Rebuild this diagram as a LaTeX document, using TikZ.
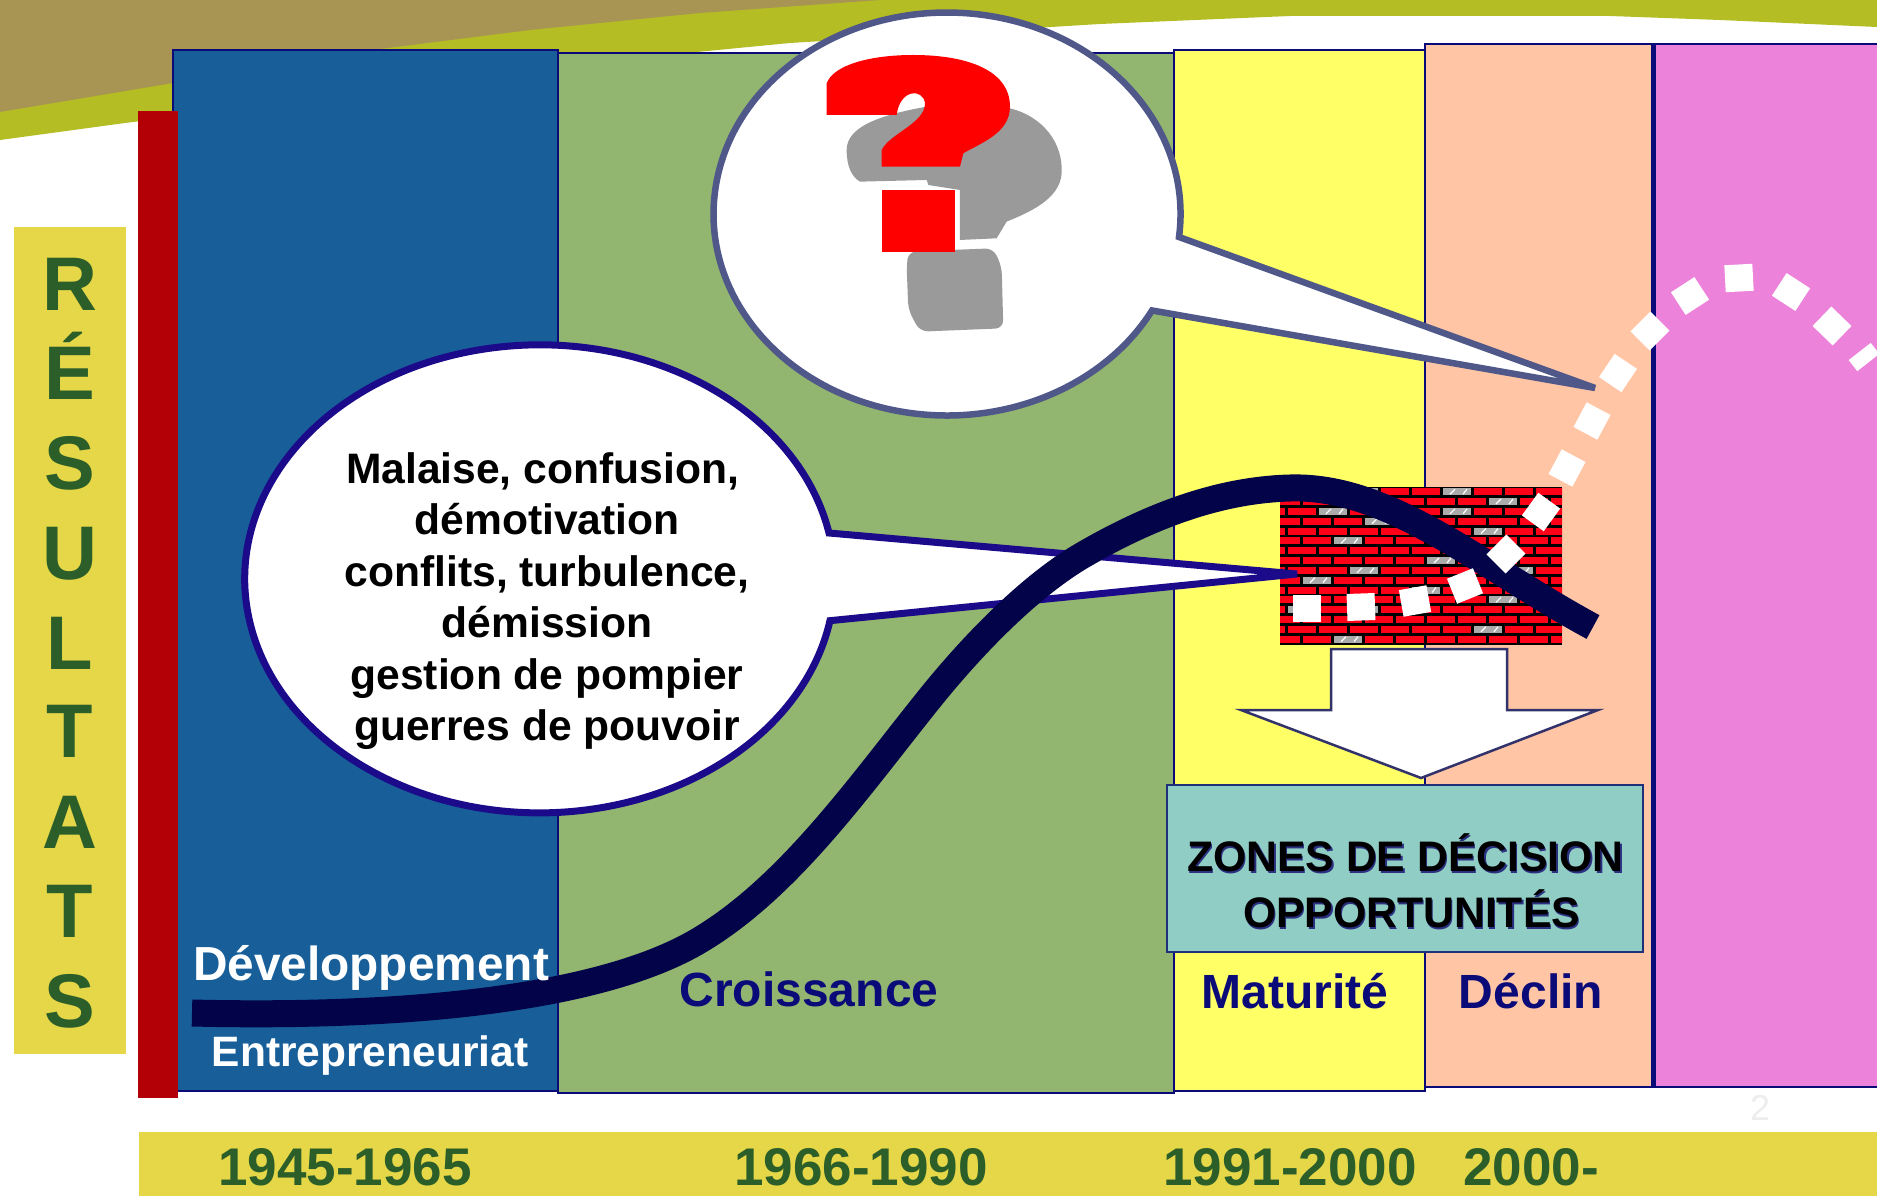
\documentclass[tikz,border=0pt]{standalone}
\usepackage{fontspec}
\setmainfont{Liberation Sans}
\newcommand\txtsz[1]{\fontsize{#1}{#1}\selectfont\bfseries}
\definecolor{cbrown}{HTML}{A89453}
\definecolor{clime}{HTML}{B4BE24}
\definecolor{cband}{HTML}{E5D747}
\definecolor{cblue}{HTML}{185F9A}
\definecolor{cgreen}{HTML}{92B570}
\definecolor{cyell}{HTML}{FFFF66}
\definecolor{corange}{HTML}{FFC5A5}
\definecolor{cpink}{HTML}{EC82DA}
\definecolor{cnavy}{HTML}{0A0A78}
\definecolor{cred}{HTML}{B30006}
\definecolor{ccurve}{HTML}{03034A}
\definecolor{cdkgreen}{HTML}{2C5E2A}
\definecolor{cteal}{HTML}{90CDC5}
\definecolor{cqgray}{HTML}{9A9A9A}
\definecolor{cbrick}{HTML}{FF0018}
\definecolor{ccallA}{HTML}{4F5888}
\definecolor{ccallB}{HTML}{1B0A8A}
\definecolor{carrow}{HTML}{33336B}
\definecolor{cboxline}{HTML}{1F2F78}
\definecolor{cshadow}{HTML}{2B3080}
\tikzset{
  column/.style={draw=cnavy,line width=2.5pt},
  lab/.style={inner sep=0pt,anchor=base},
  yearlab/.style={lab,text=cdkgreen,font=\txtsz{53}},
  phaselab/.style={lab,text=cnavy,font=\txtsz{48}},
  letterlab/.style={lab,text=cdkgreen,font=\txtsz{76}},
  zonelab/.style={lab,font=\txtsz{42.7}},
}
\begin{document}
\begin{tikzpicture}[x=1pt,y=-1pt,line join=miter]
\useasboundingbox (0,0) rectangle (1877,1196);
\fill[white] (0,0) rectangle (1877,1196);
% top swoosh
\fill[clime] (0,0) -- (1877,0) -- (1877,27) -- (1720,20) -- (1610,16) -- (1290,16) -- (1100,24) -- (790,43) -- (697,52) -- (125,123) -- (0,140) -- cycle;
\fill[cbrown] (0,0) -- (880,0) -- (700,13) -- (530,30) -- (380,49) -- (173,83) -- (0,112) -- cycle;
% columns
\draw[column,fill=cblue] (173,50) rectangle (558,1091);
\draw[column,fill=cgreen] (558,53) rectangle (1174,1093);
\draw[column,fill=cyell] (1174,50) rectangle (1425,1091);
\draw[column,fill=corange] (1425,44) rectangle (1653,1087);
\draw[column,fill=cpink] (1653,44) rectangle (1885,1087);
\draw[cnavy,line width=5pt] (1653,44) -- (1653,1087);
% bars
\fill[cred] (138,111) rectangle (178,1098);
\fill[cband] (14,227) rectangle (126,1054);
\fill[cband] (139,1132) rectangle (1877,1196);
% vertical letters
\node[letterlab] (l1) at (70,310) {R};
\node[letterlab] (l2) at (70,399) {É};
\node[letterlab] (l3) at (70,489) {S};
\node[letterlab] (l4) at (70,579) {U};
\node[letterlab] (l5) at (70,669) {L};
\node[letterlab] (l6) at (70,757) {T};
\node[letterlab] (l7) at (70,848) {A};
\node[letterlab] (l8) at (70,937) {T};
\node[letterlab] (l9) at (70,1027) {S};
% years
\node[yearlab] (y1) at (345,1185) {1945-1965};
\node[yearlab] (y2) at (861,1185) {1966-1990};
\node[yearlab] (y3) at (1290,1185) {1991-2000};
\node[yearlab] (y4) at (1531,1185) {2000-};
\node[lab,text=black!7,font=\fontsize{36}{36}\selectfont] (pg) at (1760,1120) {2};
% brick wall
\fill[black] (1280,487) rectangle (1562,645);
\begin{scope}
\clip (1280,487) rectangle (1562,645);
\foreach \r in {0,2,...,14}{
  \foreach \k in {-1,...,9}{
    \fill[cbrick] ({1288.3+31*\k},{488.2+9.83*\r}) rectangle ++(28,7);
  }
}
\foreach \r in {1,3,...,15}{
  \foreach \k in {-1,...,9}{
    \fill[cbrick] ({1272.3+31*\k},{488.2+9.83*\r}) rectangle ++(28,7);
  }
}
\foreach \r/\k in {0/2,0/5,2/1,2/5,4/6,8/2,8/7,10/4,12/0,12/2,14/6}{
  \fill[black!33] ({1288.3+31*\k},{488.2+9.83*\r}) rectangle ++(28,7);
  \draw[white,line width=1.2pt] ({1295+31*\k},{494.2+9.83*\r}) -- ++(5,-5) ({1308+31*\k},{494.2+9.83*\r}) -- ++(4,-5);
}
\foreach \r/\k in {1/7,3/3,5/2,7/5,9/1,11/7,15/2}{
  \fill[black!33] ({1272.3+31*\k},{488.2+9.83*\r}) rectangle ++(28,7);
  \draw[white,line width=1.2pt] ({1279+31*\k},{494.2+9.83*\r}) -- ++(5,-5) ({1292+31*\k},{494.2+9.83*\r}) -- ++(4,-5);
}
\end{scope}
% callouts
\coordinate (tipA) at (1595,388);
\coordinate (tipB) at (1297,574);
\draw[draw=ccallB,fill=white,line width=7pt] (tipB) -- (829,533) arc[start angle=11.3,end angle=349.7,x radius=295pt,y radius=234pt] -- cycle;
% main curve
\draw[ccurve,line width=27pt] (192,1013) .. controls (400,1018) and (600,1000) .. (700,940) .. controls (790,886) and (860,785) .. (930,698) .. controls (980,636) and (1035,583) .. (1083,555) .. controls (1145,519) and (1215,490) .. (1290,488) .. controls (1390,485) and (1480,566) .. (1593,627);
% dotted white curve
\foreach \x/\y/\a in {1307/608/0,1361/607/2,1415/601/10,1465/586/22,1506/554/45,1541/512/54,1567/468/62,1592/421/62,1618/373/56,1650/331/45,1690/296/33,1739/278/3,1791/292/-33,1832/326/-44}{
  \fill[white,rotate around={\a:(\x,\y)}] ({\x-14},{\y-13.5}) rectangle ({\x+14},{\y+13.5});
}
\fill[white,rotate around={-52:(1864,357)}] (1857,343) rectangle (1871,371);
\draw[draw=ccallA,fill=white,line width=6.5pt] (tipA) -- (1179,237) arc[start angle=-6.55,end angle=331.4,x radius=233.5pt,y radius=201.5pt] -- cycle;
% question mark
\begin{scope}[shift={(780,0)},x=0.3333pt,y=-0.3333pt]
\fill[cqgray] (200,450) .. controls (200,380) and (300,345) .. (440,320) -- (690,325) .. controls (790,350) and (850,430) .. (845,520) .. controls (840,600) and (740,640) .. (680,665) -- (650,715) -- (540,720) -- (540,570) -- (445,555) -- (440,540) -- (240,545) .. controls (215,530) and (200,500) .. (200,450) -- cycle;
\fill[cqgray,rounded corners=8pt] (385,755) -- (640,745) -- (665,800) -- (670,985) -- (420,995) -- (385,930) -- (380,800) -- cycle;
\fill[red] (140,345) -- (140,250) .. controls (160,195) and (270,165) .. (400,165) .. controls (560,165) and (690,210) .. (690,320) .. controls (690,400) and (600,430) .. (550,460) -- (540,500) -- (305,500) -- (305,450) .. controls (330,400) and (435,370) .. (435,310) .. controls (430,265) and (360,265) .. (350,345) -- cycle;
\fill[red] (305,570) rectangle (525,755);
\end{scope}
% callout text
\node[inner sep=0pt,align=center,font=\fontsize{42.6}{51.5}\selectfont\bfseries] (msg) at (547,601) {Malaise, confusion,\hspace*{9pt}\\ démotivation\\ conflits, turbulence,\\ démission\\ gestion de pompier\\ guerres de pouvoir};
% block arrow
\draw[draw=carrow,fill=white,line width=2.5pt] (1331,649) -- (1507,649) -- (1507,710) -- (1598,710) -- (1421,778) -- (1241,710) -- (1331,710) -- cycle;
% teal box
\draw[draw=cboxline,fill=cteal,line width=2.5pt] (1167,785) rectangle (1643,952);
\node[zonelab,text=cshadow] (z1s) at (1407,873) {ZONES DE DÉCISION};
\node[zonelab,text=cshadow] (z2s) at (1413,929) {OPPORTUNITÉS};
\node[zonelab] (z1) at (1405.5,871.5) {ZONES DE DÉCISION};
\node[zonelab] (z2) at (1411.5,927.5) {OPPORTUNITÉS};
% phase labels
\node[lab,text=white,font=\txtsz{47.8}] (dev) at (371,980) {Développement};
\node[lab,text=white,font=\txtsz{42.5}] (ent) at (370,1066) {Entrepreneuriat};
\node[phaselab] (cr) at (809,1006) {Croissance};
\node[phaselab] (ma) at (1295,1008) {Maturité};
\node[phaselab] (de) at (1531,1008) {Déclin};
\end{tikzpicture}
\end{document}
